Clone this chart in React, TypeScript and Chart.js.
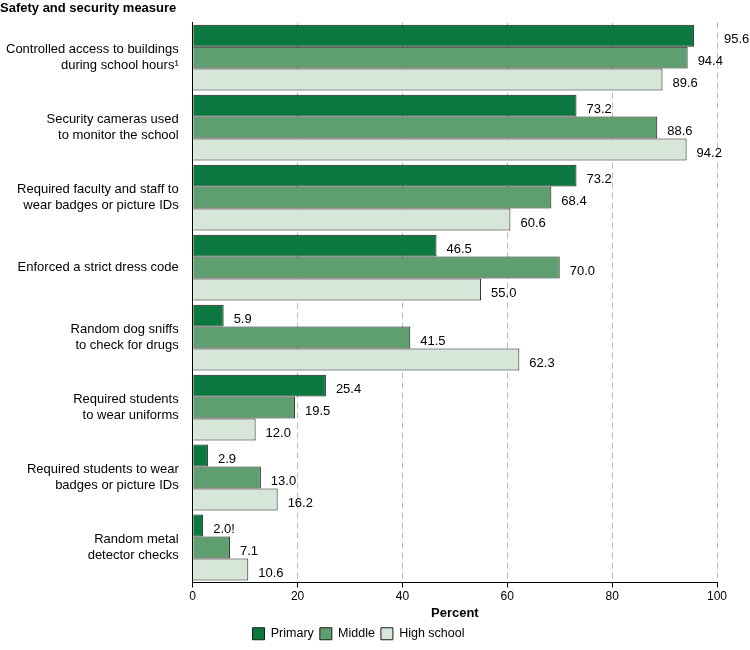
import React, { useEffect, useRef } from "react";
import { Chart, registerables } from "chart.js";
Chart.register(...registerables);

const categories: string[][] = [
  ["Controlled access to buildings", "during school hours¹"],
  ["Security cameras used", "to monitor the school"],
  ["Required faculty and staff to", "wear badges or picture IDs"],
  ["Enforced a strict dress code"],
  ["Random dog sniffs", "to check for drugs"],
  ["Required students", "to wear uniforms"],
  ["Required students to wear", "badges or picture IDs"],
  ["Random metal", "detector checks"],
];
const primary = [95.6, 73.2, 73.2, 46.5, 5.9, 25.4, 2.9, 2.0];
const middle = [94.4, 88.6, 68.4, 70.0, 41.5, 19.5, 13.0, 7.1];
const high = [89.6, 94.2, 60.6, 55.0, 62.3, 12.0, 16.2, 10.6];
const primaryLabels = ["95.6", "73.2", "73.2", "46.5", "5.9", "25.4", "2.9", "2.0!"];
const xTicks = [0, 20, 40, 60, 80, 100];

const FONT = "'Liberation Sans', Arial, sans-serif";

const valueLabels = {
  id: "valueLabels",
  afterDatasetsDraw(chart: any) {
    const ctx = chart.ctx;
    ctx.save();
    ctx.font = `13px ${FONT}`;
    ctx.fillStyle = "#000";
    ctx.textBaseline = "middle";
    ctx.textAlign = "left";
    const right = chart.chartArea.right;
    chart.data.datasets.forEach((ds: any, di: number) => {
      const meta = chart.getDatasetMeta(di);
      meta.data.forEach((bar: any, i: number) => {
        const txt = di === 0 ? primaryLabels[i] : ds.data[i].toFixed(1);
        let x = bar.x + 10;
        if (ds.data[i] > 95) x = right + 7;
        ctx.fillText(txt, x, bar.y + 4);
      });
    });
    ctx.restore();
  },
};

export default function App() {
  const ref = useRef<HTMLCanvasElement>(null);
  useEffect(() => {
    document.body.style.margin = "0";
    const chart = new Chart(ref.current!, {
      type: "bar",
      data: {
        labels: categories,
        datasets: [
          { label: "Primary", data: primary, backgroundColor: "#0b7840", borderColor: "#1a1a1a", borderWidth: 1 },
          { label: "Middle", data: middle, backgroundColor: "#5f9e6f", borderColor: "#1a1a1a", borderWidth: 1 },
          { label: "High school", data: high, backgroundColor: "#d6e6d8", borderColor: "#1a1a1a", borderWidth: 1 },
        ],
      },
      options: {
        indexAxis: "y",
        animation: false,
        responsive: false,
        maintainAspectRatio: false,
        datasets: { bar: { categoryPercentage: 0.94, barPercentage: 1 } },
        layout: { padding: { right: 33, left: 0, top: 0, bottom: 0 } },
        scales: {
          x: {
            min: 0,
            max: 100,
            afterBuildTicks: (axis: any) => { axis.ticks = xTicks.map((v) => ({ value: v })); },
            grid: { color: "#bbb", drawTicks: true, tickLength: 5, tickColor: "#000" },
            border: { dash: [6, 4], color: "#000", display: true },
            ticks: { color: "#000", font: { family: FONT, size: 12 }, padding: 2 },
            title: { display: true, text: "Percent", color: "#000", font: { family: FONT, size: 13, weight: "bold" }, padding: { top: 0, bottom: 0 } },
          },
          y: {
            grid: { display: false },
            border: { color: "#000" },
            ticks: { color: "#000", font: { family: FONT, size: 13 }, padding: 6 },
          },
        },
        plugins: {
          title: {
            display: true,
            text: "Safety and security measure",
            align: "start",
            color: "#000",
            font: { family: FONT, size: 13, weight: "bold" },
            padding: { top: 1, bottom: 6 },
          },
          legend: {
            position: "bottom",
            labels: { boxWidth: 12, boxHeight: 12, color: "#000", font: { family: FONT, size: 12.5 }, padding: 6 },
          },
          tooltip: { enabled: false },
        },
      },
      plugins: [valueLabels],
    } as any);
    return () => chart.destroy();
  }, []);
  return <canvas ref={ref} width={750} height={650} style={{ display: "block" }} />;
}
